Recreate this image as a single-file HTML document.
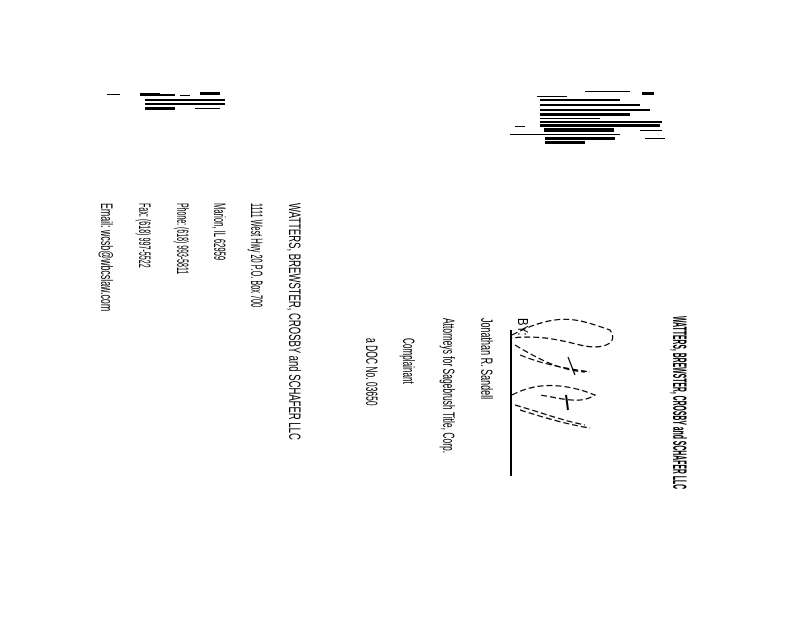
<!DOCTYPE html>
<html><head><meta charset="utf-8"><style>
html,body{margin:0;padding:0;background:#fff;}
body{width:800px;height:618px;position:relative;overflow:hidden;font-family:"Liberation Sans",sans-serif;color:#000;}
.t{position:absolute;transform-origin:0 0;white-space:nowrap;font-size:17px;line-height:17px;}
.b{position:absolute;background:#000;}
</style></head><body>
<!-- right column -->
<div class="t" style="left:688px;top:316px;font-weight:bold;font-size:19px;line-height:19px;transform:rotate(90deg) scaleX(0.36);">WATTERS, BREWSTER, CROSBY and SCHAFER LLC</div>
<div class="t" style="left:531px;top:318px;font-size:15px;transform:rotate(90deg) scaleX(0.75);">BY:</div>
<div class="b" style="left:510px;top:330px;width:2px;height:146px;"></div>
<svg style="position:absolute;left:0;top:0" width="800" height="618">
<g fill="none" stroke="#000" stroke-width="1.2" stroke-dasharray="6 3">
<path d="M512 335 C560 310 580 320 610 330 C620 345 600 350 580 345 C560 340 540 335 512 338"/>
<path d="M515 345 C540 360 560 370 585 372"/>
<path d="M520 355 C545 365 565 368 590 372"/>
<path d="M568 357 L575 375" stroke-dasharray="none"/>
<path d="M512 395 C540 380 570 385 595 395 C580 405 560 398 540 395"/>
<path d="M515 405 C540 412 560 420 585 425"/>
<path d="M520 410 C545 418 570 425 590 428"/>
<path d="M566 395 L568 410" stroke-dasharray="none" stroke-width="2"/>
</g>
</svg>
<div class="t" style="left:495px;top:318px;transform:rotate(90deg) scaleX(0.53);">Jonathan R. Sandell</div>
<div class="t" style="left:457px;top:318px;transform:rotate(90deg) scaleX(0.5);">Attorneys for Sagebrush Title, Corp.</div>
<div class="t" style="left:417px;top:338px;transform:rotate(90deg) scaleX(0.48);">Complainant</div>
<div class="t" style="left:380px;top:338px;transform:rotate(90deg) scaleX(0.5);">a DOC No. 03650</div>
<!-- left column -->
<div class="t" style="left:303px;top:203px;transform:rotate(90deg) scaleX(0.56);">WATTERS, BREWSTER, CROSBY and SCHAFER LLC</div>
<div class="t" style="left:265px;top:203px;transform:rotate(90deg) scaleX(0.43);">1111 West Hwy 20 P.O. Box 700</div>
<div class="t" style="left:228px;top:203px;transform:rotate(90deg) scaleX(0.45);">Marion, IL 62959</div>
<div class="t" style="left:191px;top:203px;transform:rotate(90deg) scaleX(0.41);">Phone: (618) 993-5811</div>
<div class="t" style="left:153px;top:203px;transform:rotate(90deg) scaleX(0.42);">Fax: (618) 997-5522</div>
<div class="t" style="left:115px;top:203px;transform:rotate(90deg) scaleX(0.52);">Email: wcsb@wbcslaw.com</div>
<!-- top-left scribble -->
<div class="b" style="left:107px;top:94px;width:13px;height:1px;"></div>
<div class="b" style="left:140px;top:93px;width:20px;height:3px;"></div>
<div class="b" style="left:160px;top:94px;width:15px;height:2px;"></div>
<div class="b" style="left:180px;top:95px;width:10px;height:1px;"></div>
<div class="b" style="left:200px;top:92px;width:20px;height:3px;"></div>
<div class="b" style="left:145px;top:99px;width:80px;height:2px;"></div>
<div class="b" style="left:145px;top:103px;width:80px;height:2px;"></div>
<div class="b" style="left:145px;top:107px;width:30px;height:3px;"></div>
<div class="b" style="left:195px;top:108px;width:25px;height:1px;"></div>
<!-- top-right scribble -->
<div class="b" style="left:585px;top:91px;width:45px;height:1px;"></div>
<div class="b" style="left:642px;top:92px;width:12px;height:3px;"></div>
<div class="b" style="left:537px;top:96px;width:30px;height:1px;"></div>
<div class="b" style="left:540px;top:99px;width:80px;height:2px;"></div>
<div class="b" style="left:540px;top:104px;width:100px;height:2px;"></div>
<div class="b" style="left:540px;top:109px;width:110px;height:2px;"></div>
<div class="b" style="left:540px;top:113px;width:90px;height:3px;"></div>
<div class="b" style="left:540px;top:118px;width:60px;height:1px;"></div>
<div class="b" style="left:540px;top:121px;width:122px;height:2px;"></div>
<div class="b" style="left:540px;top:124px;width:120px;height:3px;"></div>
<div class="b" style="left:515px;top:126px;width:10px;height:1px;"></div>
<div class="b" style="left:544px;top:128px;width:70px;height:4px;"></div>
<div class="b" style="left:510px;top:134px;width:110px;height:1px;"></div>
<div class="b" style="left:545px;top:137px;width:70px;height:3px;"></div>
<div class="b" style="left:545px;top:141px;width:40px;height:3px;"></div>
<div class="b" style="left:640px;top:130px;width:22px;height:1px;"></div>
<div class="b" style="left:645px;top:138px;width:20px;height:1px;"></div>
</body></html>
